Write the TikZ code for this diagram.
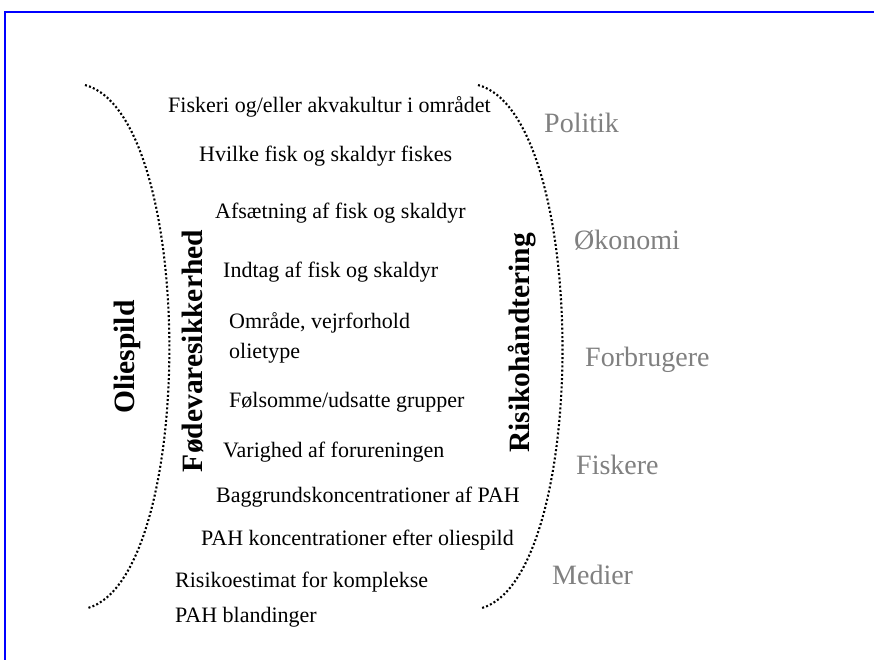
\documentclass[tikz,border=0pt]{standalone}
\usepackage{fontspec}
\setmainfont{Liberation Serif}
\begin{document}
\begin{tikzpicture}[x=1bp,y=-1bp,
  item/.style={anchor=base west, inner sep=0pt, font=\fontsize{22bp}{24bp}\selectfont},
  side/.style={anchor=base west, inner sep=0pt, text=gray, font=\fontsize{28bp}{30bp}\selectfont},
  vtitle/.style={rotate=90, inner sep=0pt, font=\fontsize{29.5bp}{32bp}\selectfont\bfseries},
  arcline/.style={line width=2.1bp, dash pattern=on 2bp off 2.2bp}]
\useasboundingbox (0,0) rectangle (874,660);
\fill[white] (0,0) rectangle (874,660);
\draw[blue, line width=1.8bp] (5,660) -- (5,12) -- (874,12);
% dotted brackets
\draw[arcline] (85,85) .. controls (197,115) and (197,576) .. (88,608);
\draw[arcline] (478,85) .. controls (590,115) and (590,576) .. (482,608);
% vertical titles
\node[vtitle] (olie) at (127,357) {Oliespild};
\node[vtitle] (fode) at (193,351) {Fødevaresikkerhed};
\node[vtitle] (risk) at (522,343) {Risikohåndtering};
% items
\node[item] (i1) at (168,113) {Fiskeri og/eller akvakultur i området};
\node[item] (i2) at (199,162) {Hvilke fisk og skaldyr fiskes};
\node[item] (i3) at (215,218) {Afsætning af fisk og skaldyr};
\node[item] (i4) at (223,277) {Indtag af fisk og skaldyr};
\node[item] (i5) at (229,328) {Område, vejrforhold};
\node[item] (i6) at (229,358) {olietype};
\node[item] (i7) at (229,407) {Følsomme/udsatte grupper};
\node[item] (i8) at (223,457) {Varighed af forureningen};
\node[item] (i9) at (216,502) {Baggrundskoncentrationer af PAH};
\node[item] (i10) at (201,545) {PAH koncentrationer efter oliespild};
\node[item] (i11) at (175,587) {Risikoestimat for komplekse};
\node[item] (i12) at (175,622) {PAH blandinger};
% side labels
\node[side] (s1) at (544,133) {Politik};
\node[side] (s2) at (574,249) {Økonomi};
\node[side] (s3) at (585,366) {Forbrugere};
\node[side] (s4) at (576,474) {Fiskere};
\node[side] (s5) at (552,584) {Medier};
\end{tikzpicture}
\end{document}
